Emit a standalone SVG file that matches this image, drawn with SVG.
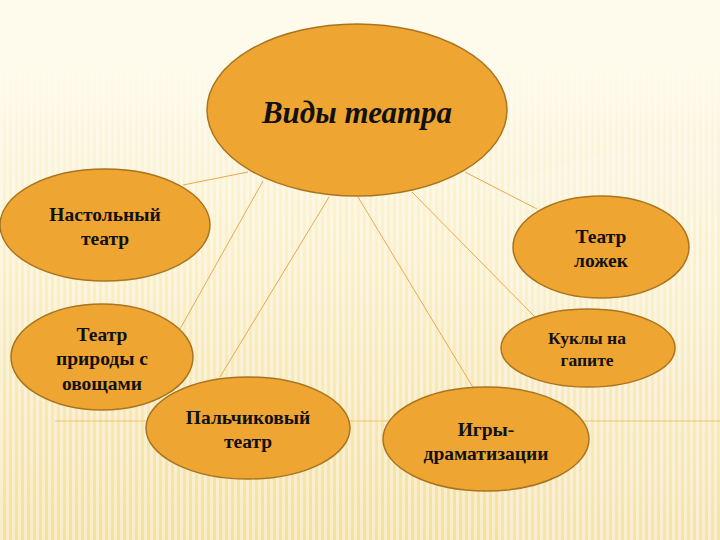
<svg xmlns="http://www.w3.org/2000/svg" width="720" height="540" viewBox="0 0 720 540">
  <defs>
    <linearGradient id="bg" x1="0" y1="0" x2="0" y2="1">
      <stop offset="0" stop-color="#fefbec"/>
      <stop offset="0.5" stop-color="#fbefc6"/>
      <stop offset="1" stop-color="#f5e0a2"/>
    </linearGradient>
    <linearGradient id="fade" x1="0" y1="0" x2="0" y2="1">
      <stop offset="0" stop-color="#fefbec" stop-opacity="1"/>
      <stop offset="0.1" stop-color="#fefbec" stop-opacity="1"/>
      <stop offset="0.25" stop-color="#fefbec" stop-opacity="0"/>
      <stop offset="1" stop-color="#fefbec" stop-opacity="0"/>
    </linearGradient>
    <pattern id="stripes" width="6" height="540" patternUnits="userSpaceOnUse">
      <rect x="0" y="0" width="3" height="540" fill="#ffffff" opacity="0.4"/>
    </pattern>
    <style>
      .node ellipse { fill: #efa532; stroke: #a9741f; stroke-width: 1.5; }
      .node text { font-family: "Liberation Serif", "Times New Roman", serif; font-weight: bold; font-size: 19.5px; fill: #111; text-anchor: middle; }
      .conn line { stroke: #eaa84c; stroke-width: 1; }
    </style>
  </defs>

  <rect width="720" height="540" fill="url(#bg)"/>
  <rect width="720" height="540" fill="url(#stripes)"/>
  <rect width="720" height="540" fill="url(#fade)"/>
  <path d="M500,190 Q600,140 720,145 L720,540 L500,540 Z" fill="#ffffff" opacity="0.12"/>
  <line x1="55" y1="421" x2="720" y2="421" stroke="#f0b860" stroke-width="1" opacity="0.8"/>

  <g id="connectors" class="conn">
    <line x1="248" y1="172" x2="183" y2="185"/>
    <line x1="263" y1="181" x2="180" y2="329"/>
    <line x1="329" y1="197" x2="220" y2="377"/>
    <line x1="358" y1="197" x2="474" y2="389"/>
    <line x1="412" y1="192" x2="535" y2="317"/>
    <line x1="465" y1="172" x2="537" y2="209"/>
  </g>

  <g id="node-center" class="node">
    <ellipse cx="357" cy="110" rx="150" ry="86"/>
    <text x="357" y="123" style="font-size:31px;font-style:italic">Виды театра</text>
  </g>

  <g id="node-nastolny" class="node">
    <ellipse cx="105" cy="225" rx="105" ry="56"/>
    <text x="105" y="221">Настольный</text>
    <text x="105" y="245">театр</text>
  </g>

  <g id="node-lozhek" class="node">
    <ellipse cx="601" cy="247" rx="88" ry="51"/>
    <text x="601" y="243">Театр</text>
    <text x="601" y="267">ложек</text>
  </g>

  <g id="node-prirody" class="node">
    <ellipse cx="102" cy="357" rx="91" ry="53"/>
    <text x="102" y="341">Театр</text>
    <text x="102" y="365">природы с</text>
    <text x="102" y="390">овощами</text>
  </g>

  <g id="node-kukly" class="node">
    <ellipse cx="588" cy="348" rx="87" ry="39"/>
    <text x="587" y="344" style="font-size:17.5px">Куклы на</text>
    <text x="587" y="366" style="font-size:17.5px">гапите</text>
  </g>

  <g id="node-palchikovy" class="node">
    <ellipse cx="248" cy="428" rx="102" ry="51"/>
    <text x="248" y="424">Пальчиковый</text>
    <text x="248" y="448">театр</text>
  </g>

  <g id="node-igry" class="node">
    <ellipse cx="486" cy="439" rx="103" ry="52"/>
    <text x="486" y="436">Игры-</text>
    <text x="486" y="460">драматизации</text>
  </g>
</svg>
